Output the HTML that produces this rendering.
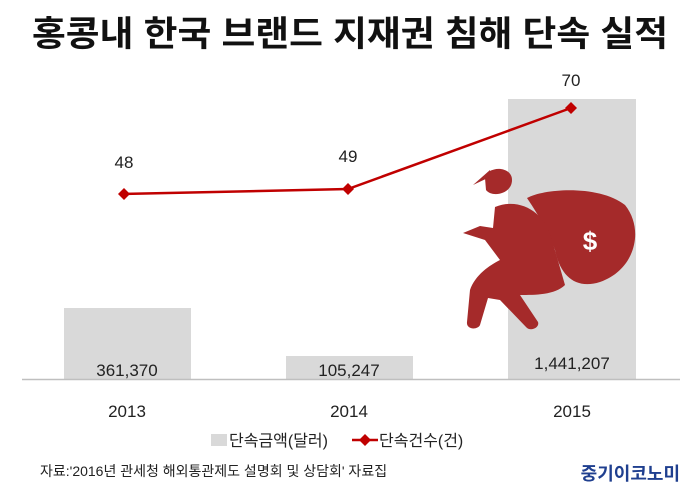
<!DOCTYPE html>
<html><head><meta charset="utf-8"><style>
body{margin:0;width:700px;height:493px;background:#fff;overflow:hidden;font-family:"Liberation Sans","Noto Sans CJK KR",sans-serif;}
</style></head><body>
<svg width="700" height="493" xmlns="http://www.w3.org/2000/svg" font-family="Liberation Sans, Noto Sans CJK KR, sans-serif">
<text x="350" y="46" text-anchor="middle" font-size="35" font-weight="bold" fill="#111" textLength="636" lengthAdjust="spacingAndGlyphs">홍콩내 한국 브랜드 지재권 침해 단속 실적</text>
<rect x="64" y="308" width="127" height="71" fill="#d9d9d9"/>
<rect x="286" y="356" width="127" height="23" fill="#d9d9d9"/>
<rect x="508" y="99" width="128" height="280" fill="#d9d9d9"/>
<line x1="22" y1="379.5" x2="680" y2="379.5" stroke="#bfbfbf" stroke-width="1.5"/>
<g font-size="17" fill="#222" text-anchor="middle">
<text x="127" y="376">361,370</text><text x="349" y="376">105,247</text><text x="572" y="369">1,441,207</text>
<text x="127" y="417">2013</text><text x="349" y="417">2014</text><text x="572" y="417">2015</text>
<text x="124" y="168">48</text><text x="348" y="162">49</text><text x="571" y="86">70</text>
</g>
<g fill="#a52a2a">
<path d="M527 198 C545 188 600 185 625 205 C645 230 635 270 600 282 C575 290 560 275 555 250 C548 230 535 210 527 198Z"/>
<path d="M485 178 C488 165 512 166 512 180 C512 194 492 198 486 190Z"/>
<path d="M473 185 L492 176 L490 170Z"/>
<path d="M495 207 C520 197 545 212 552 240 L565 285 C555 295 535 295 520 295 L538 322 C540 328 530 332 526 327 L500 300 L488 298 L480 325 C478 330 466 330 467 322 L470 290 C475 275 490 265 500 260 L485 240 L463 233 L480 226 L493 228Z"/>
</g>
<text x="590" y="250" text-anchor="middle" font-size="26" font-weight="bold" fill="#fff">$</text>
<polyline points="124,194 348,189 571,108" fill="none" stroke="#c00000" stroke-width="2.5"/>
<g fill="#c00000">
<path d="M124 188 L130 194 L124 200 L118 194Z"/><path d="M348 183 L354 189 L348 195 L342 189Z"/><path d="M571 102 L577 108 L571 114 L565 108Z"/>
</g>
<rect x="211" y="434" width="16" height="12" fill="#d9d9d9"/>
<text x="229" y="446" font-size="16" fill="#222">단속금액(달러)</text>
<line x1="352" y1="440" x2="378" y2="440" stroke="#c00000" stroke-width="2.5"/>
<path d="M365 434 L371 440 L365 446 L359 440Z" fill="#c00000"/>
<text x="379" y="446" font-size="16" fill="#222">단속건수(건)</text>
<text x="40" y="476" font-size="14" fill="#222">자료:'2016년 관세청 해외통관제도 설명회 및 상담회' 자료집</text>
<text x="680" y="480" text-anchor="end" font-size="18" font-weight="bold" fill="#1f3f8f">중기이코노미</text>
</svg>
</body></html>
